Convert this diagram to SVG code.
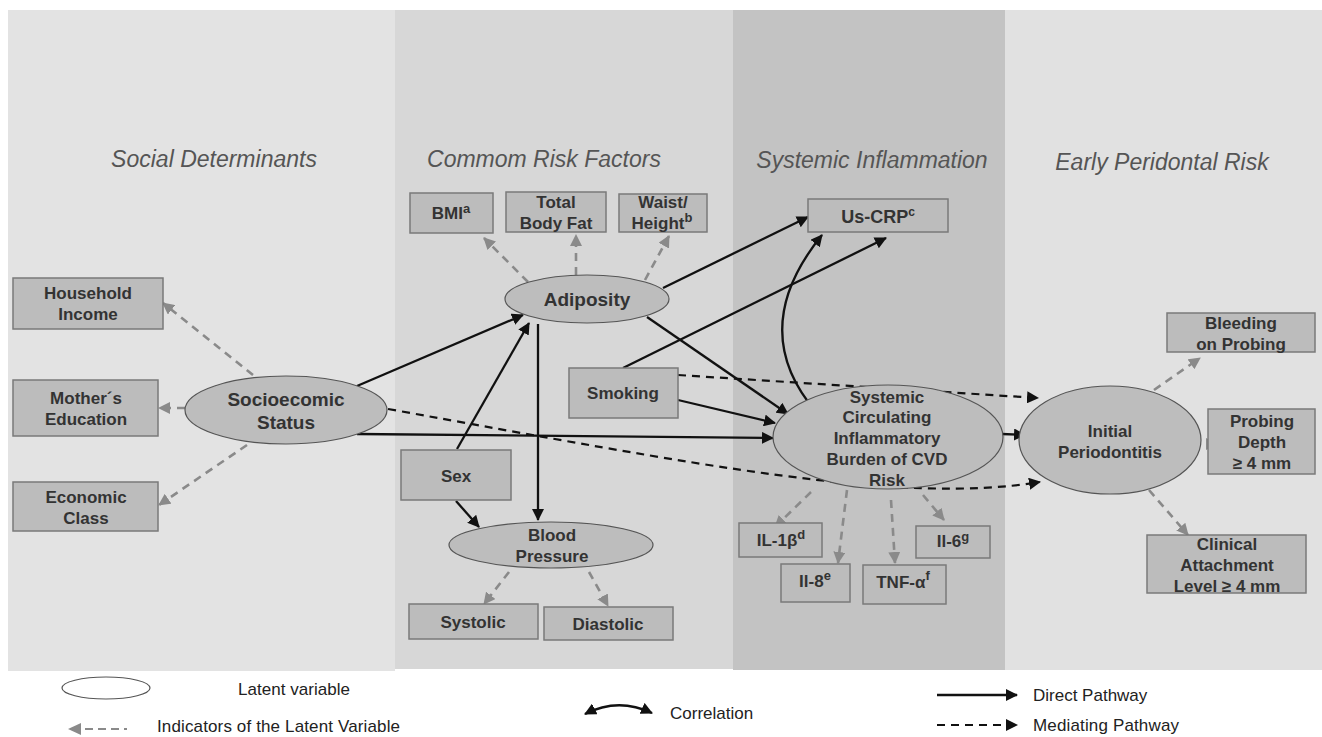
<svg xmlns="http://www.w3.org/2000/svg" width="1322" height="737" viewBox="0 0 1322 737">
<defs>
<style>
.title{font-family:"Liberation Sans",Arial,sans-serif;font-style:italic;font-size:23px;fill:#555;text-anchor:middle}
.lbl{font-family:"Liberation Sans",Arial,sans-serif;font-weight:bold;font-size:17px;fill:#333;text-anchor:middle}
.big{font-size:19px}
.sup{font-size:13px}
.box{fill:#bcbcbc;stroke:#7a7a7a;stroke-width:1.5}
.ell{fill:#bdbdbd;stroke:#555;stroke-width:1.2}
.ind{fill:none;stroke:#8a8a8a;stroke-width:2.6;stroke-dasharray:8 6;marker-end:url(#gh)}
.dir{fill:none;stroke:#111;stroke-width:2.3;marker-end:url(#bh)}
.med{fill:none;stroke:#111;stroke-width:2.2;stroke-dasharray:8 6;marker-end:url(#bh)}
.leg{font-family:"Liberation Sans",Arial,sans-serif;font-size:17px;fill:#222}
</style>
<marker id="bh" viewBox="0 0 12 12" refX="11" refY="6" markerWidth="12" markerHeight="12" markerUnits="userSpaceOnUse" orient="auto-start-reverse"><path d="M0,0 L12,6 L0,12 z" fill="#111"/></marker>
<marker id="gh" viewBox="0 0 12 12" refX="11" refY="6" markerWidth="12" markerHeight="12" markerUnits="userSpaceOnUse" orient="auto"><path d="M0,0 L12,6 L0,12 z" fill="#8a8a8a"/></marker>
</defs>
<rect width="1322" height="737" fill="#fff"/>
<g id="panels">
<rect x="8" y="10" width="387" height="661" fill="#e3e3e3"/>
<rect x="395" y="10" width="338" height="659" fill="#d7d7d7"/>
<rect x="733" y="10" width="272" height="660" fill="#c3c3c3"/>
<rect x="1005" y="10" width="317" height="660" fill="#e1e1e1"/>
<text class="title" x="214" y="167">Social Determinants</text>
<text class="title" x="544" y="167">Commom Risk Factors</text>
<text class="title" x="872" y="168">Systemic Inflammation</text>
<text class="title" x="1162" y="170">Early Peridontal Risk</text>
</g>
<g id="connectors">
<path class="ind" d="M253,375 L163,303"/>
<path class="ind" d="M185,408 L159,408"/>
<path class="ind" d="M247,445 L159,505"/>
<path class="ind" d="M528,282 L484,238"/>
<path class="ind" d="M576,275 L576,235"/>
<path class="ind" d="M645,280 L669,236"/>
<path class="ind" d="M509,572 L484,604"/>
<path class="ind" d="M589,572 L608,606"/>
<path class="ind" d="M811,492 L775,527"/>
<path class="ind" d="M847,490 L838,563"/>
<path class="ind" d="M891,500 L895,563"/>
<path class="ind" d="M923,495 L944,520"/>
<path class="ind" d="M1154,390 L1200,358"/>
<path class="ind" d="M1193,444 L1217,444"/>
<path class="ind" d="M1149,490 L1188,535"/>
<path class="dir" d="M357,386 L523,315"/>
<path class="dir" d="M357,434 L773,438"/>
<path class="dir" d="M457,449 L529,323"/>
<path class="dir" d="M538,324 L538,520"/>
<path class="dir" d="M456,501 L479,527"/>
<path class="dir" d="M663,288 L808,217"/>
<path class="dir" d="M647,317 L788,414"/>
<path class="dir" d="M623,368 L886,238"/>
<path class="dir" d="M678,400 L775,423"/>
<path class="dir" d="M1002,434 L1025,435"/>
<path class="dir" d="M822,235 Q745,330 817,413" marker-start="url(#bh)"/>
<path class="med" d="M678,375 L1038,398"/>
<path class="med" d="M388,409 C700,465 900,505 1040,482"/>
</g>
<g id="household"><rect class="box" x="13" y="278" width="150" height="51"/><text class="lbl" x="88" y="299">Household</text><text class="lbl" x="88" y="320">Income</text></g>
<g id="mother"><rect class="box" x="13" y="380" width="145" height="56"/><text class="lbl" x="86" y="404">Mother´s</text><text class="lbl" x="86" y="425">Education</text></g>
<g id="economic"><rect class="box" x="13" y="482" width="145" height="49"/><text class="lbl" x="86" y="503">Economic</text><text class="lbl" x="86" y="524">Class</text></g>
<g id="ses"><ellipse class="ell" cx="286" cy="410" rx="101" ry="34"/><text class="lbl big" x="286" y="406">Socioecomic</text><text class="lbl big" x="286" y="429">Status</text></g>
<g id="bmi"><rect class="box" x="410" y="193" width="83" height="40"/><text class="lbl" x="451" y="219">BMI<tspan class="sup" dy="-6">a</tspan></text></g>
<g id="tbf"><rect class="box" x="506" y="192" width="100" height="40"/><text class="lbl" x="556" y="208">Total</text><text class="lbl" x="556" y="229">Body Fat</text></g>
<g id="waist"><rect class="box" x="619" y="194" width="88" height="38"/><text class="lbl" x="663" y="208">Waist/</text><text class="lbl" x="662" y="229">Height<tspan class="sup" dy="-7">b</tspan></text></g>
<g id="adiposity"><ellipse class="ell" cx="587" cy="299" rx="82" ry="24"/><text class="lbl big" x="587" y="306">Adiposity</text></g>
<g id="smoking"><rect class="box" x="569" y="368" width="109" height="50"/><text class="lbl" x="623" y="399">Smoking</text></g>
<g id="sex"><rect class="box" x="401" y="450" width="110" height="50"/><text class="lbl" x="456" y="482">Sex</text></g>
<g id="bp"><ellipse class="ell" cx="551" cy="545" rx="102" ry="23"/><text class="lbl" x="552" y="541">Blood</text><text class="lbl" x="552" y="562">Pressure</text></g>
<g id="systolic"><rect class="box" x="409" y="604" width="129" height="35"/><text class="lbl" x="473" y="628">Systolic</text></g>
<g id="diastolic"><rect class="box" x="544" y="607" width="129" height="33"/><text class="lbl" x="608" y="630">Diastolic</text></g>
<g id="uscrp"><rect class="box" x="808" y="199" width="140" height="33"/><text class="lbl" x="878" y="223" style="font-size:18px">Us-CRP<tspan class="sup" dy="-7" style="font-size:12px">c</tspan></text></g>
<g id="systemic"><ellipse class="ell" cx="888" cy="437" rx="115" ry="52"/><text class="lbl" x="887" y="403">Systemic</text><text class="lbl" x="887" y="423">Circulating</text><text class="lbl" x="887" y="444">Inflammatory</text><text class="lbl" x="887" y="465">Burden of CVD</text><text class="lbl" x="887" y="486">Risk</text></g>
<g id="il1"><rect class="box" x="739" y="523" width="83" height="34"/><text class="lbl" x="781" y="546">IL-1β<tspan class="sup" dy="-7">d</tspan></text></g>
<g id="il8"><rect class="box" x="781" y="564" width="69" height="38"/><text class="lbl" x="815" y="587">Il-8<tspan class="sup" dy="-7">e</tspan></text></g>
<g id="tnf"><rect class="box" x="863" y="565" width="83" height="39"/><text class="lbl" x="903" y="588">TNF-α<tspan class="sup" dy="-8">f</tspan></text></g>
<g id="il6"><rect class="box" x="916" y="526" width="74" height="32"/><text class="lbl" x="953" y="547">Il-6<tspan class="sup" dy="-6">g</tspan></text></g>
<g id="initial"><ellipse class="ell" cx="1110" cy="440" rx="91" ry="54"/><text class="lbl" x="1110" y="437">Initial</text><text class="lbl" x="1110" y="458">Periodontitis</text></g>
<g id="bleeding"><rect class="box" x="1167" y="313" width="148" height="39"/><text class="lbl" x="1241" y="329">Bleeding</text><text class="lbl" x="1241" y="350">on Probing</text></g>
<g id="probing"><rect class="box" x="1208" y="409" width="107" height="65"/><text class="lbl" x="1262" y="427">Probing</text><text class="lbl" x="1262" y="448">Depth</text><text class="lbl" x="1262" y="469">≥ 4 mm</text></g>
<g id="clinical"><rect class="box" x="1147" y="535" width="159" height="58"/><text class="lbl" x="1227" y="550">Clinical</text><text class="lbl" x="1227" y="571">Attachment</text><text class="lbl" x="1227" y="592">Level ≥ 4 mm</text></g>
<g id="legend">
<ellipse cx="106" cy="688" rx="44" ry="11" fill="#fff" stroke="#555" stroke-width="1.2"/>
<text class="leg" x="238" y="695" textLength="112">Latent variable</text>
<path d="M68,729 L81,723 L81,735 z" fill="#8a8a8a"/>
<path d="M85,729 L127,729" stroke="#8a8a8a" stroke-width="2" stroke-dasharray="8 5"/>
<text class="leg" x="157" y="732" textLength="243">Indicators of the Latent Variable</text>
<path d="M585,714 Q618,697 652,713" fill="none" stroke="#111" stroke-width="2.3" marker-start="url(#bh)" marker-end="url(#bh)"/>
<text class="leg" x="670" y="719">Correlation</text>
<path class="dir" d="M937,695 L1017,695"/>
<text class="leg" x="1033" y="701">Direct Pathway</text>
<path class="med" d="M937,725 L1017,725"/>
<text class="leg" x="1033" y="731" textLength="146">Mediating Pathway</text>
</g>
</svg>
